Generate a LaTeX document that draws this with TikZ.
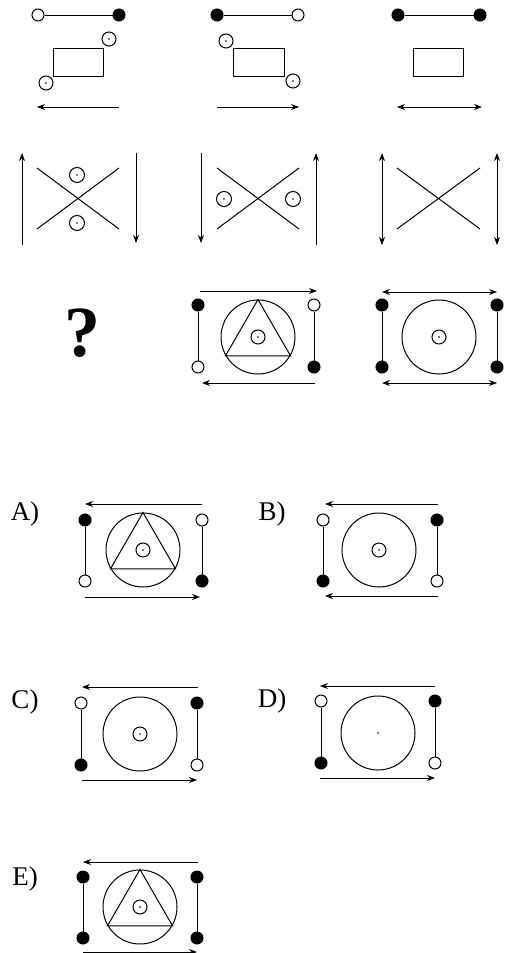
\documentclass[tikz,border=0pt]{standalone}
\usepackage{fontspec}
\setmainfont{Liberation Serif}
\usetikzlibrary{arrows.meta}

\begin{document}
\begin{tikzpicture}[x=1pt, y=-1pt, line width=1pt,
    >={Stealth[length=8pt, width=6pt]},
    fulldot/.style={circle, draw, fill=black, minimum size=12pt, inner sep=0pt},
    opendot/.style={circle, draw, fill=white, minimum size=12pt, inner sep=0pt},
    eye/.style={circle, draw, minimum size=14pt, inner sep=0pt,
        path picture={\fill (path picture bounding box.center) circle (0.9pt);}},
    ring/.style={circle, draw, minimum size=74pt, inner sep=0pt},
    letter/.style={font=\fontsize{27}{30}\selectfont}]

    \useasboundingbox (0,0) rectangle (513,953);

    % ============================================================
    % ROW 1 : BARS, BOXES, ARROWS
    % ============================================================
    \node[opendot] (p1a) at (38,15) {};
    \node[fulldot] (p1b) at (119,15) {};
    \draw (p1a) -- (p1b);
    \draw (53,48) rectangle (103,76);
    \node[eye] (p1e1) at (109,39) {};
    \node[eye] (p1e2) at (46,83) {};
    \coordinate (p1s) at (119,107);
    \coordinate (p1t) at (37,107);
    \draw[->] (p1s) -- (p1t);

    \node[fulldot] (p2a) at (217,15) {};
    \node[opendot] (p2b) at (298,15) {};
    \draw (p2a) -- (p2b);
    \draw (233,48) rectangle (284,76);
    \node[eye] (p2e1) at (226,41) {};
    \node[eye] (p2e2) at (293,81) {};
    \coordinate (p2s) at (217,107);
    \coordinate (p2t) at (299,107);
    \draw[->] (p2s) -- (p2t);

    \node[fulldot] (p3a) at (398,15) {};
    \node[fulldot] (p3b) at (480,15) {};
    \draw (p3a) -- (p3b);
    \draw (413,48) rectangle (463,76);
    \coordinate (p3s) at (397,107);
    \coordinate (p3t) at (482,107);
    \draw[<->] (p3s) -- (p3t);

    % ============================================================
    % ROW 2 : CROSSES BETWEEN VERTICAL ARROWS
    % ============================================================
    \coordinate (q1s) at (22,245);
    \coordinate (q1t) at (22,153);
    \draw[->] (q1s) -- (q1t);
    \draw (37,168) -- (119,229);
    \draw (37,229) -- (119,168);
    \node[eye, minimum size=15pt] (q1e1) at (77,175) {};
    \node[eye, minimum size=15pt] (q1e2) at (77,223) {};
    \coordinate (q1u) at (136,153);
    \coordinate (q1v) at (136,243);
    \draw[->] (q1u) -- (q1v);

    \coordinate (q2s) at (201,153);
    \coordinate (q2t) at (201,243);
    \draw[->] (q2s) -- (q2t);
    \draw (217,168) -- (299,229);
    \draw (217,229) -- (299,168);
    \node[eye, minimum size=15pt] (q2e1) at (224,199) {};
    \node[eye, minimum size=15pt] (q2e2) at (293,199) {};
    \coordinate (q2u) at (316,245);
    \coordinate (q2v) at (316,153);
    \draw[->] (q2u) -- (q2v);

    \coordinate (q3s) at (382,153);
    \coordinate (q3t) at (382,245);
    \draw[<->] (q3s) -- (q3t);
    \draw (397,168) -- (480,229);
    \draw (397,229) -- (480,168);
    \coordinate (q3u) at (497,153);
    \coordinate (q3v) at (497,245);
    \draw[<->] (q3u) -- (q3v);

    % ============================================================
    % ROW 3 : QUESTION AND TWO RINGS
    % ============================================================
    \node[font=\fontsize{72}{74}\bfseries\selectfont] (ask) at (82,333) {?};

    \coordinate (r2s) at (200,291);
    \coordinate (r2t) at (317,291);
    \draw[->] (r2s) -- (r2t);
    \node[fulldot] (r2a) at (198,305) {};
    \node[opendot] (r2b) at (314,305) {};
    \node[opendot] (r2c) at (198,367) {};
    \node[fulldot] (r2d) at (314,367) {};
    \draw (r2a) -- (r2c);
    \draw (r2b) -- (r2d);
    \node[ring] (r2o) at (258,337) {};
    \draw (r2o.90) -- (r2o.210) -- (r2o.330) -- cycle;
    \node[eye] (r2e) at (258,337) {};
    \coordinate (r2u) at (315,383);
    \coordinate (r2v) at (202,383);
    \draw[->] (r2u) -- (r2v);

    \coordinate (r3s) at (382,292);
    \coordinate (r3t) at (497,292);
    \draw[<->] (r3s) -- (r3t);
    \node[fulldot] (r3a) at (382,305) {};
    \node[fulldot] (r3b) at (497,305) {};
    \node[fulldot] (r3c) at (382,367) {};
    \node[fulldot] (r3d) at (497,367) {};
    \draw (r3a) -- (r3c);
    \draw (r3b) -- (r3d);
    \node[ring] (r3o) at (439,337) {};
    \node[eye] (r3e) at (439,337) {};
    \coordinate (r3u) at (382,383);
    \coordinate (r3v) at (497,383);
    \draw[<->] (r3u) -- (r3v);

    % ============================================================
    % ANSWER A
    % ============================================================
    \node[letter] (la) at (25,514) {A)};
    \coordinate (as) at (202,504);
    \coordinate (at) at (85,504);
    \draw[->] (as) -- (at);
    \node[fulldot] (aa) at (85,520) {};
    \node[opendot] (ab) at (202,520) {};
    \node[opendot] (ac) at (85,581) {};
    \node[fulldot] (ad) at (202,581) {};
    \draw (aa) -- (ac);
    \draw (ab) -- (ad);
    \node[ring] (ao) at (143,550) {};
    \draw (ao.90) -- (ao.210) -- (ao.330) -- cycle;
    \node[eye] (ae) at (143,550) {};
    \coordinate (au) at (85,597);
    \coordinate (av) at (200,597);
    \draw[->] (au) -- (av);

    % ============================================================
    % ANSWER B
    % ============================================================
    \node[letter] (lb) at (272,514) {B)};
    \coordinate (bs) at (438,504);
    \coordinate (bt) at (325,504);
    \draw[->] (bs) -- (bt);
    \node[opendot] (ba) at (323,520) {};
    \node[fulldot] (bb) at (437,520) {};
    \node[fulldot] (bc) at (323,581) {};
    \node[opendot] (bd) at (437,581) {};
    \draw (ba) -- (bc);
    \draw (bb) -- (bd);
    \node[ring] (bo) at (379,550) {};
    \node[eye] (be) at (379,550) {};
    \coordinate (bu) at (438,596);
    \coordinate (bv) at (325,596);
    \draw[->] (bu) -- (bv);

    % ============================================================
    % ANSWER C
    % ============================================================
    \node[letter] (lc) at (25,702) {C)};
    \coordinate (cs) at (198,687);
    \coordinate (ct) at (82,687);
    \draw[->] (cs) -- (ct);
    \node[opendot] (ca) at (81,703) {};
    \node[fulldot] (cb) at (197,703) {};
    \node[fulldot] (cc) at (81,765) {};
    \node[opendot] (cd) at (197,765) {};
    \draw (ca) -- (cc);
    \draw (cb) -- (cd);
    \node[ring] (co) at (140,734) {};
    \node[eye] (ce) at (140,734) {};
    \coordinate (cu) at (82,780);
    \coordinate (cv) at (197,780);
    \draw[->] (cu) -- (cv);

    % ============================================================
    % ANSWER D
    % ============================================================
    \node[letter] (ld) at (272,701) {D)};
    \coordinate (ds) at (435,686);
    \coordinate (dt) at (320,686);
    \draw[->] (ds) -- (dt);
    \node[opendot] (da) at (321,701) {};
    \node[fulldot] (db) at (435,701) {};
    \node[fulldot] (dc) at (321,763) {};
    \node[opendot] (dd) at (435,763) {};
    \draw (da) -- (dc);
    \draw (db) -- (dd);
    \node[ring] (do) at (378,733) {};
    \fill (do.center) circle (0.9pt);
    \coordinate (du) at (320,778);
    \coordinate (dv) at (435,778);
    \draw[->] (du) -- (dv);

    % ============================================================
    % ANSWER E
    % ============================================================
    \node[letter] (le) at (25,879) {E)};
    \coordinate (es) at (198,862);
    \coordinate (et) at (83,862);
    \draw[->] (es) -- (et);
    \node[fulldot] (ea) at (83,877) {};
    \node[fulldot] (eb) at (197,877) {};
    \node[fulldot] (ec) at (83,938) {};
    \node[fulldot] (ed) at (197,938) {};
    \draw (ea) -- (ec);
    \draw (eb) -- (ed);
    \node[ring] (eo) at (140,907) {};
    \draw (eo.90) -- (eo.210) -- (eo.330) -- cycle;
    \node[eye] (ee) at (140,907) {};
    \coordinate (eu) at (83,952);
    \coordinate (ev) at (197,952);
    \draw[->] (eu) -- (ev);

\end{tikzpicture}
\end{document}
